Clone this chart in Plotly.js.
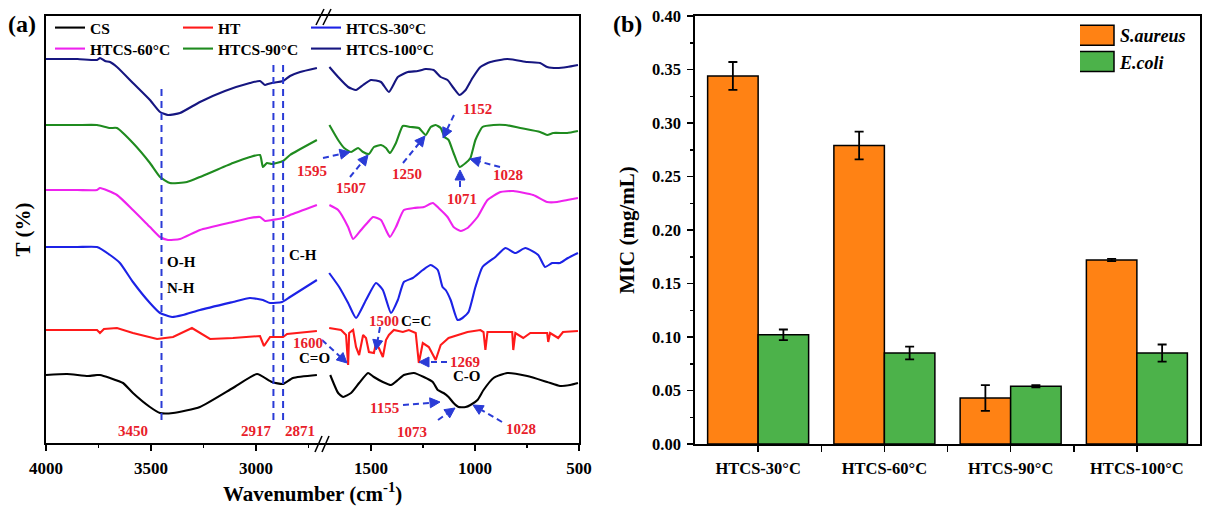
<!DOCTYPE html>
<html><head><meta charset="utf-8">
<script src="https://cdn.plot.ly/plotly-3.0.1.min.js"></script>
<style>html,body{margin:0;padding:0;background:#fff}#chart{width:1205px;height:507px}</style>
</head><body><div id="chart"></div><script>
// ---------- Panel (a): FTIR spectra (offset transmittance, arbitrary units) ----------
const cs_wnL = [4000,3900,3800,3757,3743,3695,3633,3586,3505,3457,3395,3267,3110,2995,2924,2871,2824,2710];
const cs_tL  = [68,69,67,68,68,65,60,50,36,30,30,36,55,69,61,59,65,68];
const cs_wnR = [1696,1658,1634,1596,1557,1514,1486,1443,1404,1371,1342,1294,1246,1203,1179,1151,1127,1103,1079,1045,1022,988,959,911,845,749,653,591,543,505];
const cs_tR  = [68,50,46,50,60,70,66,61,58,63,68,70,66,61,53,50,46,40,36,36,38,43,53,65,70,67,61,57,58,60];

const ht_wnL = [4000,3850,3757,3743,3724,3662,3586,3471,3395,3305,3252,3219,3110,2981,2962,2948,2933,2871,2852,2710];
const ht_tL  = [113,113,113,110,114,115,110,104,106,115,108,104,105,107,97,102,106,106,109,112];
const ht_wnR = [1701,1644,1620,1610,1605,1586,1572,1557,1538,1524,1510,1486,1476,1462,1443,1428,1414,1390,1347,1318,1285,1270,1251,1222,1189,1165,1127,1084,1036,974,959,950,940,878,821,816,806,768,734,653,648,639,600,577,505];
const ht_tR  = [115,113,108,78,110,113,96,88,108,105,91,90,100,95,86,103,108,113,111,113,110,80,100,96,83,98,105,108,111,113,111,93,111,111,111,93,110,105,110,110,101,110,105,111,112];

const h30_wnL = [4000,3850,3757,3695,3648,3586,3505,3457,3400,3348,3267,3110,3029,2967,2933,2876,2838,2710];
const h30_tL  = [196,196,196,188,180,161,140,130,126,128,133,141,145,143,140,141,146,163];
const h30_wnR = [1701,1653,1610,1572,1524,1476,1443,1404,1371,1342,1299,1251,1213,1179,1156,1141,1117,1084,1060,1031,998,964,902,854,806,758,696,663,629,591,553,505];
const h30_tR  = [170,156,140,125,143,160,153,130,143,161,165,173,178,173,156,153,143,123,125,131,156,176,186,195,190,195,188,176,180,180,185,190];

const h60_wnL = [4000,3850,3757,3743,3662,3586,3505,3457,3419,3362,3267,3110,3029,2981,2957,2924,2871,2838,2710];
const h60_tL  = [253,253,253,255,248,233,216,206,203,204,213,221,225,226,222,223,225,228,238];
const h60_wnR = [1700,1658,1610,1586,1548,1514,1490,1452,1428,1409,1380,1342,1294,1246,1203,1175,1132,1103,1069,1036,988,940,878,816,720,653,605,557,505];
const h60_tR  = [238,233,216,204,213,221,226,223,213,206,216,233,235,236,240,235,226,216,212,215,226,243,251,252,248,241,241,243,245];

const h90_wnL = [4000,3850,3757,3695,3662,3586,3505,3457,3410,3329,3267,3110,3029,2981,2967,2948,2924,2871,2838,2710];
const h90_tL  = [318,318,318,315,315,300,280,266,260,261,266,280,286,288,276,280,279,282,288,303];
const h90_wnR = [1700,1658,1629,1596,1562,1538,1510,1486,1452,1428,1409,1380,1347,1309,1270,1237,1213,1189,1165,1146,1127,1103,1074,1045,1022,998,964,911,854,782,687,653,624,557,505];
const h90_tR  = [318,303,295,291,295,291,289,296,298,295,290,300,317,316,315,308,316,318,315,306,303,290,276,280,285,303,316,318,318,315,311,308,310,310,312];

const h100_wnL = [4000,3850,3757,3743,3719,3695,3662,3586,3505,3457,3419,3362,3267,3148,3029,2981,2957,2943,2924,2871,2838,2790,2710];
const h100_tL  = [384,384,383,385,382,381,376,360,343,331,328,330,341,352,360,362,358,359,360,362,367,371,375];
const h100_wnR = [1700,1658,1610,1572,1538,1500,1452,1414,1371,1323,1275,1237,1199,1165,1132,1103,1074,1045,1012,974,926,845,749,687,653,605,557,505];
const h100_tR  = [376,366,356,353,358,363,361,351,366,371,372,374,373,366,363,355,348,353,365,376,381,384,381,380,376,375,376,378];

const seriesNames = ['CS','HT','HTCS-30°C','HTCS-60°C','HTCS-90°C','HTCS-100°C'];
const peakLines = [3450, 2917, 2871];

// ---------- Panel (b): MIC ----------
const categories = ['HTCS-30°C','HTCS-60°C','HTCS-90°C','HTCS-100°C'];
const saureus    = [0.344, 0.279, 0.043, 0.172];
const saureusErr = [0.013, 0.013, 0.012, 0.001];
const ecoli      = [0.102, 0.085, 0.054, 0.085];
const ecoliErr   = [0.005, 0.006, 0.001, 0.008];

// ---------- styling ----------
const W = 1205, H = 507;
const P = x => x / W, Q = y => 1 - y / H;
const FONT = 'Liberation Serif, Times New Roman, serif';
const RED = '#e8202a', BLUE = '#2a3bd6';
const colors = ['#000000','#ff1a1a','#1c22e6','#ee22ee','#1f8b1f','#161680'];
const spectra = [
  [cs_wnL, cs_tL, cs_wnR, cs_tR],
  [ht_wnL, ht_tL, ht_wnR, ht_tR],
  [h30_wnL, h30_tL, h30_wnR, h30_tR],
  [h60_wnL, h60_tL, h60_wnR, h60_tR],
  [h90_wnL, h90_tL, h90_wnR, h90_tR],
  [h100_wnL, h100_tL, h100_wnR, h100_tR]
];

const traces = [];
spectra.forEach((s, i) => {
  const shape = i === 1 ? 'linear' : 'spline';
  traces.push({type:'scatter', mode:'lines', x:s[0], y:s[1], xaxis:'x', yaxis:'y', name:seriesNames[i],
    legend: i < 3 ? 'legend' : 'legend2',
    line:{color:colors[i], width:2.1, shape:shape, smoothing:0.5}, hoverinfo:'skip'});
});
spectra.forEach((s, i) => {
  const shape = i === 1 ? 'linear' : 'spline';
  traces.push({type:'scatter', mode:'lines', x:s[2], y:s[3], xaxis:'x2', yaxis:'y2', name:seriesNames[i],
    showlegend:false, line:{color:colors[i], width:2.1, shape:shape, smoothing:0.5}, hoverinfo:'skip'});
});
const idx = categories.map((c, i) => i);
traces.push({type:'bar', x:idx, y:saureus, name:'S.aureus', xaxis:'x3', yaxis:'y3', legend:'legend3',
  marker:{color:'#ff8214', line:{color:'#000', width:1.5}},
  error_y:{type:'data', array:saureusErr, visible:true, color:'#000', thickness:1.8, width:4.5}});
traces.push({type:'bar', x:idx, y:ecoli, name:'E.coli', xaxis:'x3', yaxis:'y3', legend:'legend3',
  marker:{color:'#4cb24a', line:{color:'#000', width:1.5}},
  error_y:{type:'data', array:ecoliErr, visible:true, color:'#000', thickness:1.8, width:4.5}});

const tickFontA = {family:FONT, size:17, color:'#000', weight:'bold'};
const axisBase = {showline:true, linecolor:'#000', linewidth:1.6, showgrid:false, zeroline:false,
  ticks:'outside', ticklen:6, tickwidth:1.5, tickcolor:'#000', ticklabelstandoff:3};

const shapes = [];
const annotations = [];

// dashed guide lines at the marked bands
const lineTops = [88, 63, 60];
peakLines.forEach((w, i) => shapes.push({type:'line', xref:'x', yref:'paper', x0:w, x1:w,
  y0:Q(420), y1:Q(lineTops[i]), line:{color:BLUE, width:2, dash:'7px,5px'}}));

// axis-break marks
[[316,25,324,9],[323,25,331,9],[315,452,322,436],[322,452,329,436]].forEach(b =>
  shapes.push({type:'line', xref:'paper', yref:'paper', x0:P(b[0]), y0:Q(b[1]), x1:P(b[2]), y1:Q(b[3]),
    line:{color:'#000', width:1.6}}));

// dashed arrows (tail -> head), pixel positions
const arrows = [[323,158,350,152],[350,177,368,155],[403,163,425,136],[454,115,443,138],[460,187,460,170],
  [500,167,470,159],[322,340,347,363],[380,327,376,350],[447,362,419,362],[403,405,440,402],
  [438,420,455,408],[502,422,473,405]];
arrows.forEach(a => {
  const dx = a[0]-a[2], dy = a[1]-a[3], L = Math.hypot(dx, dy);
  const ux = dx/L, uy = dy/L;
  const bx = a[2]+ux*10, by = a[3]+uy*10;
  shapes.push({type:'line', xref:'paper', yref:'paper', x0:P(a[0]), y0:Q(a[1]), x1:P(bx), y1:Q(by),
    line:{color:BLUE, width:2, dash:'6px,4px'}});
  const p1x = bx - uy*5, p1y = by + ux*5, p2x = bx + uy*5, p2y = by - ux*5;
  shapes.push({type:'path', xref:'paper', yref:'paper',
    path:`M${P(a[2])},${Q(a[3])} L${P(p1x)},${Q(p1y)} L${P(p2x)},${Q(p2y)} Z`,
    fillcolor:BLUE, line:{color:BLUE, width:1}});
});

const labels = [
  ['(a)',22,24,'#000',24], ['(b)',627,24,'#000',24],
  ['3450',133,431,RED], ['2917',256,431,RED], ['2871',300,431,RED],
  ['O-H',181,262,'#000'], ['N-H',181,288,'#000'], ['C-H',303,255,'#000'],
  ['1595',312,171,RED], ['1507',351,188,RED], ['1250',407,174,RED], ['1152',477,109,RED],
  ['1071',462,199,RED], ['1028',508,175,RED],
  ['1600',308,343,RED], ['C=O',314,358,'#000'], ['1500',384,321,RED], ['C=C',416,321,'#000'],
  ['1269',465,362,RED], ['C-O',467,376,'#000'],
  ['1155',384,408,RED], ['1073',412,432,RED], ['1028',521,429,RED]
];
labels.forEach(l => annotations.push({xref:'paper', yref:'paper', x:P(l[1]), y:Q(l[2]), xanchor:'center', yanchor:'middle',
  text:l[0], showarrow:false, font:{family:FONT, size:l[4]||15, color:l[3], weight:'bold'}}));

annotations.push({xref:'paper', yref:'paper', x:P(312), y:Q(492), xanchor:'center', yanchor:'middle', showarrow:false,
  text:'Wavenumber (cm<sup>-1</sup>)', font:{family:FONT, size:21, color:'#000', weight:'bold'}});

const yA = [Q(443), Q(16)];
const layout = {
  width:W, height:H, margin:{l:0, r:0, t:0, b:0}, paper_bgcolor:'#fff', plot_bgcolor:'rgba(0,0,0,0)',
  showlegend:true, barmode:'group', bargap:0.2, bargroupgap:0,
  font:{family:FONT, color:'#000'},
  xaxis:Object.assign({}, axisBase, {domain:[P(46), P(319)], anchor:'y', range:[4000,2700], mirror:true,
    tickmode:'array', tickvals:[4000,3500,3000], tickfont:tickFontA,
    minor:{tickmode:'array', tickvals:[3750,3250,2750], ticks:'outside', ticklen:3, tickwidth:1.5, tickcolor:'#000'}}),
  xaxis2:Object.assign({}, axisBase, {domain:[P(319), P(579)], anchor:'y2', range:[1750,500], mirror:true,
    tickmode:'array', tickvals:[1500,1000,500], tickfont:tickFontA,
    minor:{tickmode:'array', tickvals:[1250,750], ticks:'outside', ticklen:3, tickwidth:1.5, tickcolor:'#000'}}),
  yaxis:Object.assign({}, axisBase, {domain:yA, anchor:'x', range:[0,427], ticks:'', showticklabels:false,
    title:{text:'T (%)', font:{family:FONT, size:21, color:'#000', weight:'bold'}, standoff:8}}),
  yaxis2:Object.assign({}, axisBase, {overlaying:'y', anchor:'x2', side:'right', range:[0,427], ticks:'', showticklabels:false}),
  xaxis3:Object.assign({}, axisBase, {domain:[P(695), P(1200)], anchor:'y3', range:[-0.5,3.5], mirror:true, linewidth:1.8,
    tickmode:'array', tickvals:idx, ticktext:categories, tickfont:{family:FONT, size:16.5, color:'#000', weight:'bold'},
    ticklabelstandoff:2,
    minor:{tickmode:'array', tickvals:[0.5,1.5,2.5], ticks:'outside', ticklen:6, tickwidth:1.5, tickcolor:'#000'}}),
  yaxis3:Object.assign({}, axisBase, {domain:[Q(444), Q(16)], anchor:'x3', range:[0,0.4], mirror:true, linewidth:1.8,
    tickmode:'linear', tick0:0, dtick:0.05, tickformat:'.2f', tickfont:{family:FONT, size:16.5, color:'#000', weight:'bold'},
    minor:{dtick:0.025, ticks:'outside', ticklen:3, tickwidth:1.5, tickcolor:'#000'},
    title:{text:'MIC (mg/mL)', font:{family:FONT, size:21, color:'#000', weight:'bold'}, standoff:12}}),
  legend:{x:P(50), y:Q(11), xanchor:'left', yanchor:'top', orientation:'h', entrywidth:83, entrywidthmode:'pixels',
    bgcolor:'rgba(0,0,0,0)', font:{family:FONT, size:15.5, color:'#000', weight:'bold'}, traceorder:'normal'},
  legend2:{x:P(50), y:Q(32), xanchor:'left', yanchor:'top', orientation:'h', entrywidth:83, entrywidthmode:'pixels',
    bgcolor:'rgba(0,0,0,0)', font:{family:FONT, size:15.5, color:'#000', weight:'bold'}, traceorder:'normal'},
  legend3:{x:P(1080), y:Q(17), xanchor:'left', yanchor:'top', orientation:'v',
    bgcolor:'rgba(0,0,0,0)', font:{family:FONT, size:18, color:'#000', weight:'bold', style:'italic'}, traceorder:'normal'},
  shapes:shapes, annotations:annotations
};
Plotly.newPlot('chart', traces, layout, {displayModeBar:false, staticPlot:true}).then(gd => {
  // enlarge the bar-legend swatches to match the wide boxes of the original
  gd.querySelectorAll('.legend3 .legendpoints path').forEach(p => p.setAttribute('d', 'M14,10H-26V-10H14Z'));
});
</script></body></html>
